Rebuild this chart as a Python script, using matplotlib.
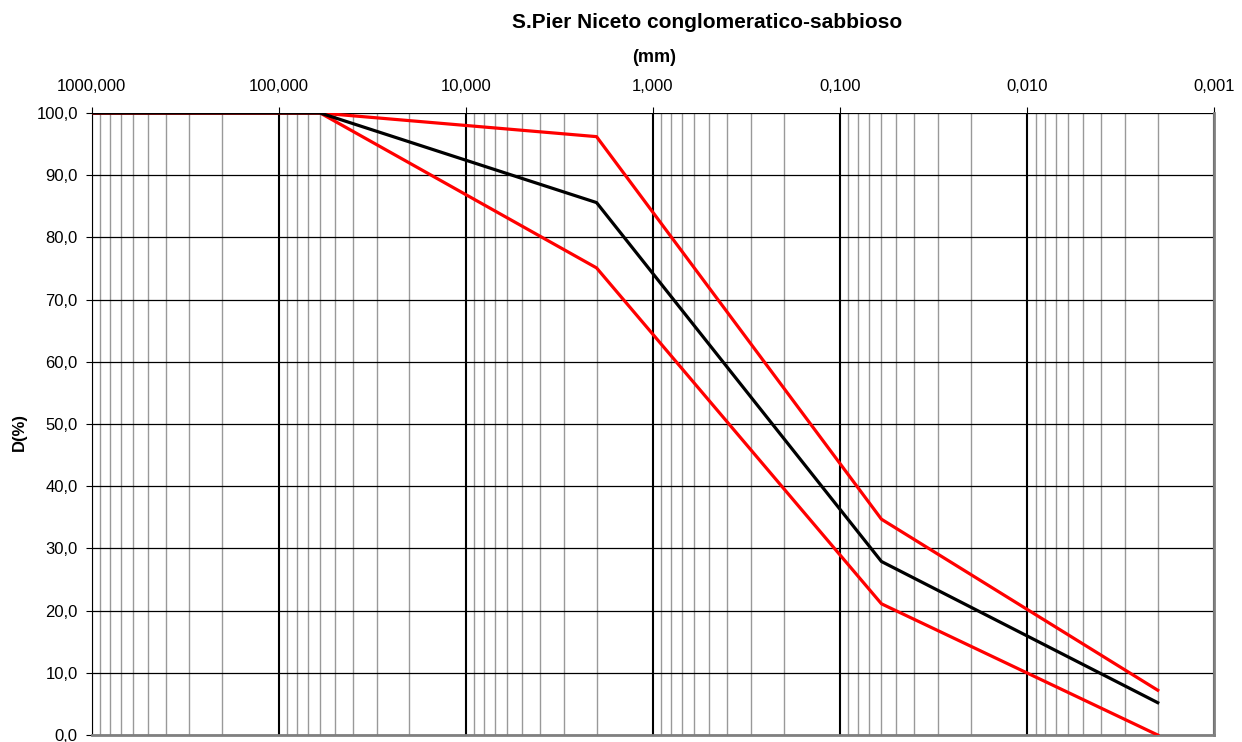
import matplotlib.pyplot as plt
from matplotlib.ticker import FixedLocator, FuncFormatter
import numpy as np

plt.rcParams['font.family'] = ['Liberation Sans', 'DejaVu Sans']

# diametro (mm) e passante (%)
diam = [1000.0, 60.0, 2.0, 0.06, 0.002]
fuso_sup = [100.0, 100.0, 96.2, 34.7, 7.2]
curva = [100.0, 100.0, 85.6, 27.9, 5.2]
fuso_inf = [100.0, 100.0, 75.1, 21.1, 0.0]

fig = plt.figure(figsize=(12.42, 7.42), dpi=100)
ax = fig.add_axes([0.0738, 0.0094, 0.9037, 0.8383])

ax.set_xscale('log')
ax.set_xlim(1000, 0.001)
ax.set_ylim(0, 100)

# griglia verticale: decadi nere, suddivisioni grigie
decadi = [10.0 ** e for e in range(-3, 4)]
for d in decadi:
    ax.axvline(d, color='black', lw=1.5, zorder=1)
for e in range(-3, 3):
    for k in range(2, 10):
        ax.axvline(k * 10.0 ** e, color='#999999', lw=1.0, zorder=1)
for y in range(0, 101, 10):
    ax.axhline(y, color='black', lw=0.9, zorder=1)

ax.plot(diam, fuso_sup, color='#ff0000', lw=2.3, zorder=3)
ax.plot(diam, fuso_inf, color='#ff0000', lw=2.3, zorder=3)
ax.plot(diam, curva, color='black', lw=2.3, zorder=4)

ax.xaxis.tick_top()
ax.xaxis.set_major_locator(FixedLocator(decadi))
ax.xaxis.set_minor_locator(FixedLocator([]))
ax.xaxis.set_major_formatter(FuncFormatter(lambda v, p: f"{v:.3f}".replace('.', ',')))
ax.set_yticks(np.arange(0, 101, 10))
ax.yaxis.set_major_formatter(FuncFormatter(lambda v, p: f"{v:.1f}".replace('.', ',')))
ax.tick_params(axis='x', length=4.5, labelsize=12, pad=9, colors='black')
ax.tick_params(axis='y', length=4, labelsize=12, pad=6)

ax.spines['top'].set_visible(False)
ax.spines['left'].set_color('black')
ax.spines['right'].set_color('#808080')
ax.spines['right'].set_linewidth(2)
ax.spines['bottom'].set_color('#808080')
ax.spines['bottom'].set_linewidth(2)

fig.text(19 / 1242, 1 - 432 / 742, 'D(%)', rotation=90, ha='center', va='center',
         fontsize=12, fontweight='bold')
fig.text(654 / 1242, 1 - 58 / 742, '(mm)', ha='center', va='center',
         fontsize=13, fontweight='bold')
fig.text(707 / 1242, 1 - 23 / 742, 'S.Pier Niceto conglomeratico-sabbioso', ha='center',
         va='center', fontsize=15, fontweight='bold')

fig.savefig('out.png', dpi=100)
